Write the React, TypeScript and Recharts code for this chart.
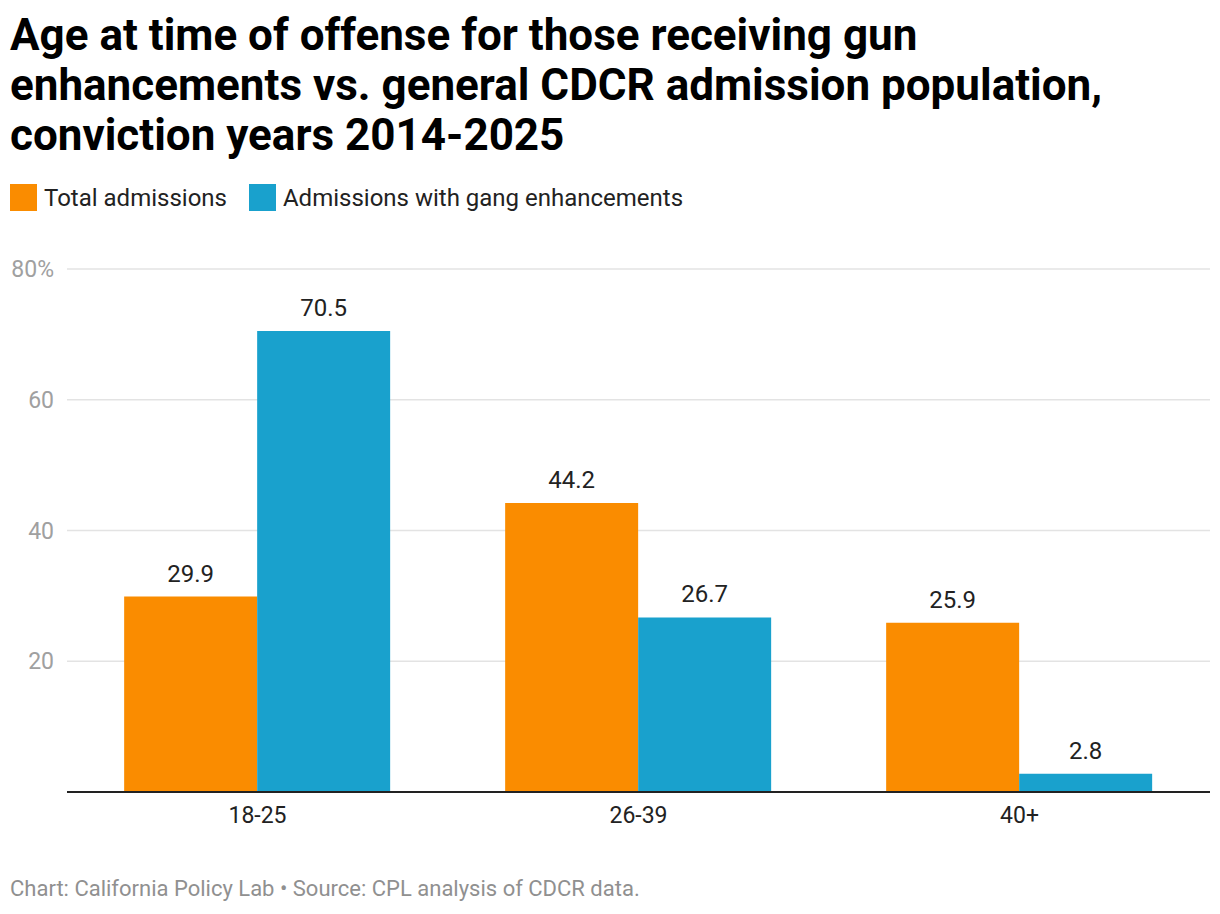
import React from "react";
import { BarChart, Bar, XAxis, YAxis, CartesianGrid, LabelList } from "recharts";

const ageGroups = ["18-25", "26-39", "40+"];
const totalAdmissions = [29.9, 44.2, 25.9];
const gangAdmissions = [70.5, 26.7, 2.8];
const yTicks = [0, 20, 40, 60, 80];

const ORANGE = "#fa8c00";
const BLUE = "#19a1cd";

const data = ageGroups.map((g, i) => ({
  group: g,
  total: totalAdmissions[i],
  gang: gangAdmissions[i],
}));

const fmtY = (v: number) => (v === 0 ? "" : v === 80 ? "80%" : String(v));

export default function App() {
  return (
    <div style={{ position: "relative", width: 1220, height: 914, background: "#fff", fontFamily: "Roboto, sans-serif" }}>
      <style>{`body{margin:0}`}</style>

      {/* Title */}
      <div style={{ position: "absolute", left: 10, top: 10, fontSize: 44, lineHeight: "50px", fontWeight: 700, color: "#000", whiteSpace: "nowrap" }}>
        Age at time of offense for those receiving gun
        <br />
        enhancements vs. general CDCR admission population,
        <br />
        conviction years 2014-2025
      </div>

      {/* Legend */}
      <div style={{ position: "absolute", left: 10, top: 184, height: 27, display: "flex", alignItems: "center", fontSize: 24, color: "#222", whiteSpace: "nowrap" }}>
        <span style={{ width: 27, height: 27, background: ORANGE, marginRight: 7 }} />
        <span style={{ marginRight: 22 }}>Total admissions</span>
        <span style={{ width: 27, height: 27, background: BLUE, marginRight: 7 }} />
        <span>Admissions with gang enhancements</span>
      </div>

      <div style={{ position: "absolute", left: 0, top: 0 }}>
        <BarChart
          width={1220}
          height={914}
          data={data}
          margin={{ top: 269, right: 10, left: 0, bottom: 92 }}
          barCategoryGap="15%"
          barGap={0}
        >
          <CartesianGrid vertical={false} stroke="#e3e3e3" strokeWidth={1.5} />
          <XAxis
            dataKey="group"
            height={30}
            tickLine={false}
            tickSize={0}
            tickMargin={15}
            axisLine={{ stroke: "#222", strokeWidth: 2 }}
            tick={{ fontSize: 23, fill: "#222" }}
          />
          <YAxis
            width={67}
            domain={[0, 80]}
            ticks={yTicks}
            tickFormatter={fmtY}
            axisLine={false}
            tickLine={false}
            tickSize={0}
            tickMargin={13}
            tick={{ fontSize: 23, fill: "#a0a0a0" }}
          />
          <Bar dataKey="total" fill={ORANGE} isAnimationActive={false}>
            <LabelList dataKey="total" position="top" offset={15} style={{ fontSize: 24, fill: "#222" }} />
          </Bar>
          <Bar dataKey="gang" fill={BLUE} isAnimationActive={false}>
            <LabelList dataKey="gang" position="top" offset={15} style={{ fontSize: 24, fill: "#222" }} />
          </Bar>
        </BarChart>
      </div>

      {/* Footer */}
      <div style={{ position: "absolute", left: 10, top: 876, fontSize: 22, color: "#909090", whiteSpace: "nowrap" }}>
        Chart: California Policy Lab • Source: CPL analysis of CDCR data.
      </div>
    </div>
  );
}
